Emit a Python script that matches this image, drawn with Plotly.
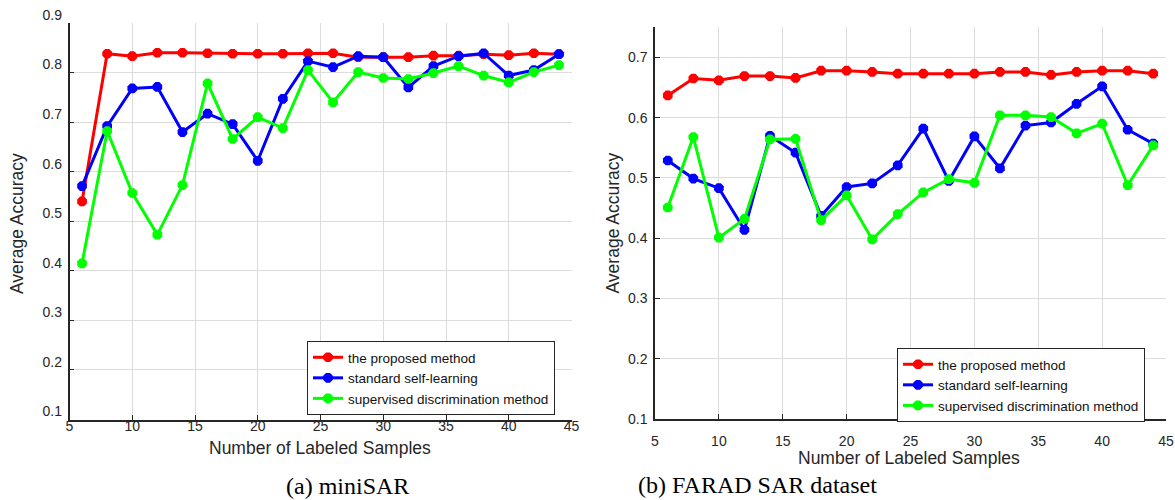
import plotly.graph_objects as go

x_vals = [6, 8, 10, 12, 14, 16, 18, 20, 22, 24, 26, 28, 30, 32, 34, 36, 38, 40, 42, 44]

# (a) miniSAR
a_proposed = [0.540, 0.838, 0.833, 0.840, 0.840, 0.839, 0.838, 0.838, 0.838, 0.839, 0.839,
              0.831, 0.831, 0.831, 0.834, 0.834, 0.837, 0.835, 0.839, 0.837]
a_self = [0.571, 0.692, 0.768, 0.771, 0.680, 0.717, 0.696, 0.622, 0.747, 0.823, 0.811,
          0.833, 0.831, 0.770, 0.813, 0.833, 0.839, 0.794, 0.805, 0.837]
a_superv = [0.415, 0.682, 0.557, 0.473, 0.573, 0.778, 0.666, 0.710, 0.688, 0.805, 0.740,
            0.801, 0.789, 0.787, 0.799, 0.813, 0.794, 0.780, 0.801, 0.815]

# (b) FARAD SAR dataset
b_proposed = [0.637, 0.665, 0.662, 0.669, 0.669, 0.666, 0.678, 0.678, 0.676, 0.673, 0.673,
              0.673, 0.673, 0.676, 0.676, 0.671, 0.676, 0.678, 0.678, 0.673]
b_self = [0.529, 0.499, 0.483, 0.414, 0.570, 0.542, 0.437, 0.485, 0.491, 0.521, 0.582,
          0.495, 0.569, 0.516, 0.587, 0.592, 0.623, 0.652, 0.580, 0.557]
b_superv = [0.451, 0.568, 0.401, 0.432, 0.564, 0.565, 0.430, 0.471, 0.398, 0.440, 0.476,
            0.498, 0.492, 0.604, 0.604, 0.601, 0.574, 0.590, 0.488, 0.554]

names = ["the proposed method", "standard self-learning", "supervised discrimination method"]
colors = ["#ff0000", "#0000ff", "#00ff00"]
x_ticks = [5, 10, 15, 20, 25, 30, 35, 40, 45]
y_ticks = [0.1, 0.2, 0.3, 0.4, 0.5, 0.6, 0.7, 0.8, 0.9]

W, H = 1175, 500
FONT = "Liberation Sans, Arial, sans-serif"
SERIF = "Liberation Serif, Times New Roman, serif"
TXT = "#262626"

fig = go.Figure()

for series, name, col in zip([a_proposed, a_self, a_superv], names, colors):
    fig.add_trace(go.Scatter(x=x_vals, y=series, name=name, mode="lines+markers",
                             line=dict(color=col, width=3),
                             marker=dict(symbol="octagon", size=10.5, color=col),
                             xaxis="x", yaxis="y", legend="legend"))
for series, name, col in zip([b_proposed, b_self, b_superv], names, colors):
    fig.add_trace(go.Scatter(x=x_vals, y=series, name=name, mode="lines+markers",
                             line=dict(color=col, width=3),
                             marker=dict(symbol="octagon", size=10.5, color=col),
                             xaxis="x2", yaxis="y2", legend="legend2"))

def px_x(p):
    return p / W

def px_y(p):
    return 1 - p / H

axis_common = dict(showgrid=True, gridcolor="#dcdcdc", gridwidth=1, zeroline=False,
                   showline=True, linecolor=TXT, linewidth=1.5, ticks="inside",
                   ticklen=5, tickcolor=TXT, automargin=False,
                   tickfont=dict(family=FONT, size=14, color=TXT))

legend_common = dict(xanchor="left", yanchor="top", bgcolor="white", bordercolor=TXT,
                     borderwidth=1, font=dict(family=FONT, size=13.5, color="#111111"),
                     tracegroupgap=0, itemwidth=30)

fig.update_layout(
    width=W, height=H, margin=dict(l=0, r=0, t=0, b=0, autoexpand=False),
    paper_bgcolor="white", plot_bgcolor="white",
    font=dict(family=FONT, color=TXT),
    xaxis=dict(domain=[px_x(69.5), px_x(571.5)], range=[5, 45], tickvals=x_ticks,
               anchor="y", ticklabelstandoff=-7, **axis_common),
    yaxis=dict(domain=[px_y(419.5), px_y(23)], range=[0.1, 0.9], tickvals=y_ticks,
               tickformat=".1f", anchor="x", ticklabelshift=-8, ticklabelstandoff=3, **axis_common),
    xaxis2=dict(domain=[px_x(655), px_x(1166)], range=[5, 45], tickvals=x_ticks,
                anchor="y2", ticklabelstandoff=8, **axis_common),
    yaxis2=dict(domain=[px_y(419), px_y(26.7)], range=[0.1, 0.751], tickvals=y_ticks[:7],
                tickformat=".1f", anchor="x2", ticklabelstandoff=3, **axis_common),
    legend=dict(x=px_x(307), y=px_y(341), **legend_common),
    legend2=dict(x=px_x(897), y=px_y(348), **legend_common),
    showlegend=True,
)

annotations = [
    dict(text="Number of Labeled Samples", x=px_x(319.5), y=px_y(448), font=dict(size=17.5)),
    dict(text="Number of Labeled Samples", x=px_x(909), y=px_y(458), font=dict(size=17.5)),
    dict(text="Average Accuracy", x=px_x(17), y=px_y(224), textangle=-90, font=dict(size=17.5)),
    dict(text="Average Accuracy", x=px_x(612.5), y=px_y(223), textangle=-90, font=dict(size=17.5)),
    dict(text="(a) miniSAR", x=px_x(347), y=px_y(486),
         font=dict(size=24, family=SERIF, color="#000000")),
    dict(text="(b) FARAD SAR dataset", x=px_x(757), y=px_y(485),
         font=dict(size=24, family=SERIF, color="#000000")),
]
for a in annotations:
    a.update(xref="paper", yref="paper", showarrow=False, xanchor="center", yanchor="middle")
    a["font"].setdefault("family", FONT)
    a["font"].setdefault("color", TXT)
fig.update_layout(annotations=annotations)

fig.write_html("out.html", config={"displayModeBar": False},
               post_script="document.body.style.margin='0';document.body.style.overflow='hidden';")
